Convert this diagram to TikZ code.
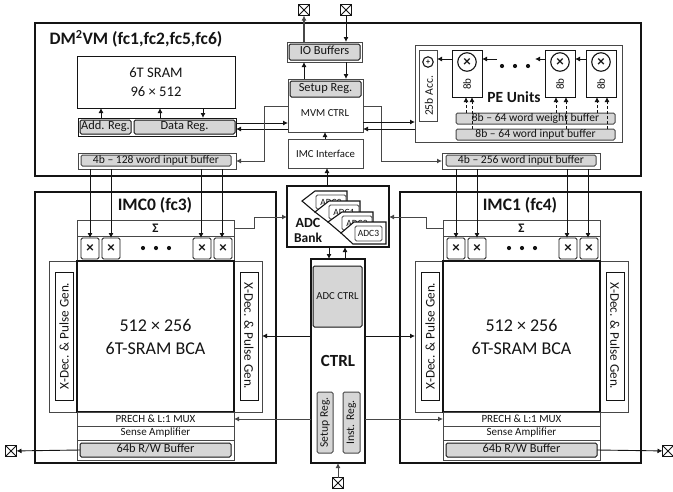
\documentclass[tikz,border=0pt]{standalone}
\usepackage{fontspec}
\setmainfont{Carlito}
\usetikzlibrary{arrows.meta,calc}
\definecolor{gb}{gray}{0.84}
\definecolor{ln}{gray}{0.08}
\definecolor{gl}{gray}{0.28}
\newcommand{\bx}[7]{% style,name,x1,y1,x2,y2,text
  \pgfmathsetmacro{\cxx}{(#3+#5)/2}\pgfmathsetmacro{\cyy}{(#4+#6)/2}
  \pgfmathsetmacro{\wxx}{#5-#3}\pgfmathsetmacro{\hyy}{#6-#4}
  \node[#1,minimum width=\wxx pt,minimum height=\hyy pt] (#2) at (\cxx,\cyy) {#7};}
\tikzset{
  base/.style={inner sep=0pt,outer sep=0pt,text=ln,align=center},
  plain/.style={base,draw=ln,line width=1pt,fill=white},
  heavy/.style={base,draw=ln,line width=1.7pt,fill=white},
  frame/.style={base,draw=gl,line width=1pt,fill=white},
  gbox/.style={base,draw=gl,line width=1pt,fill=gb,rounded corners=1.5pt,text height=0.64em,text depth=0.05em},
  mult/.style={base,draw=ln,line width=0.8pt,fill=white,rounded corners=1.5pt,font=\fontsize{15}{15}\bfseries},
  circ/.style={base,circle,draw=ln,line width=1.1pt,fill=white,minimum size=#1},
  pad/.style={base,draw=ln,line width=1.1pt,fill=white,minimum size=11pt,
    path picture={\draw[ln,line width=0.8pt] (path picture bounding box.south west)--(path picture bounding box.north east)
      (path picture bounding box.north west)--(path picture bounding box.south east);}},
  wire/.style={draw=ln,line width=0.9pt,-{Latex[length=5pt,width=5pt]}},
  gwire/.style={draw=gl,line width=1pt,-{Latex[length=5pt,width=5pt]}},
  dwire/.style={draw=ln,line width=0.9pt,densely dashed,-{Latex[length=5pt,width=5pt]}},
  tag/.style={draw=ln,line width=1.1pt,fill=white},
  dot/.style={base,circle,fill=ln,minimum size=4.2pt},
  f7/.style={font=\fontsize{9.5}{10}\selectfont},
  f75/.style={font=\fontsize{10.7}{11}\selectfont},
  f8/.style={font=\fontsize{11.6}{12}\selectfont},
  f85/.style={font=\fontsize{11}{12}\selectfont},
  f9/.style={font=\fontsize{12.4}{13}\selectfont},
}
\begin{document}
\begin{tikzpicture}[x=1pt,y=-1pt]
\useasboundingbox (0,0) rectangle (673,491);
% outer blocks
\bx{heavy}{dm}{35}{23}{641}{176}{}
\bx{heavy}{imcA}{35}{192}{276}{463}{}
\bx{heavy}{imcB}{400}{192}{641}{463}{}
\node[base,font=\fontsize{17.5}{18}\bfseries] (dmt) at (136,39) {DM\textsuperscript{2}VM (fc1,fc2,fc5,fc6)};
\node[base,font=\fontsize{17.5}{18}\bfseries] (imcAt) at (155,205) {IMC0 (fc3)};
\node[base,font=\fontsize{17.5}{18}\bfseries] (imcBt) at (520,205) {IMC1 (fc4)};
% SRAM
\bx{plain,font=\fontsize{14.6}{18.5}\selectfont}{sram}{77}{56}{235}{108}{6T SRAM\\96 × 512}
\bx{frame,draw=ln}{regs}{78}{118}{236}{136}{}
\bx{gbox,f9,draw=ln}{addr}{80}{120}{131}{134}{Add. Reg.}
\bx{gbox,f9,draw=ln}{datar}{134}{120}{235}{134}{Data Reg.}
\bx{frame}{bufA}{78}{153}{236}{169}{}
\bx{gbox,f8}{bufAi}{81}{155}{231}{166}{4b – 128 word input buffer}
% centre
\bx{frame}{io}{287}{42}{362}{62}{}
\bx{gbox,f9,draw=ln}{ioi}{289}{44}{360}{60}{IO Buffers}
\bx{frame}{mvm}{288}{79}{363}{132}{}
\bx{gbox,f9,draw=ln}{setup}{290}{81}{361}{97}{Setup Reg.}
\node[base,f75] (mvmt) at (325,113) {MVM CTRL};
\bx{frame,f75}{imcif}{288}{139}{363}{168}{IMC Interface}
\node[pad] (padA) at (304,10) {};
\node[pad] (padB) at (346,10) {};
% PE
\bx{frame}{pe}{415}{45}{622}{142}{}
\bx{frame}{acc}{419}{50}{437}{121}{}
\node[circ=10.5pt] (accc) at (428,62) {};
\node[base,font=\fontsize{8}{8}\bfseries] at (accc) {+};
\node[base,f8,rotate=90] (acct) at (429,96) {25b Acc.};
\foreach \n/\xa in {A/452,B/545,C/586}{
  \pgfmathsetmacro{\xb}{\xa+30}
  \pgfmathsetmacro{\xc}{\xa+15}
  \bx{plain}{pe\n}{\xa}{50}{\xb}{97}{}
  \node[circ=18.5pt] (c\n) at (\xc,62) {};
  \node[base,font=\fontsize{15}{15}\bfseries] at (c\n) {×};
  \node[base,f85,rotate=90] at (\xc,84) {8b};
}
\node[dot] (d1) at (502,66) {};
\node[dot] (d2) at (515,66) {};
\node[dot] (d3) at (528,66) {};
\node[base,font=\fontsize{15.5}{16}\bfseries] (peu) at (514,97) {PE Units};
\bx{gbox,f8}{wbuf}{456}{113}{615}{124}{8b – 64 word weight buffer}
\bx{gbox,f8}{ibuf}{456}{129}{615}{140}{8b – 64 word input buffer}
\bx{frame}{bufB}{442}{153}{600}{169}{}
\bx{gbox,f8}{bufBi}{446}{155}{596}{166}{4b – 256 word input buffer}
% IMC macro, twice
\foreach \s/\o in {A/0,B/366}{
  \pgfmathsetmacro{\xa}{49+\o}\pgfmathsetmacro{\xb}{262+\o}
  \pgfmathsetmacro{\xc}{77+\o}\pgfmathsetmacro{\xd}{234+\o}
  \bx{frame}{mac\s}{\xa}{261}{\xb}{412}{}
  \bx{frame}{sig\s}{\xc}{220}{\xd}{236}{}
  \node[base,font=\fontsize{13}{13}\bfseries] at (sig\s) {Σ};
  \bx{frame}{row\s}{\xc}{236}{\xd}{261}{}
  \foreach \m/\xe in {a/81,b/102,c/193,d/214}{
    \pgfmathsetmacro{\xl}{\xe+\o}\pgfmathsetmacro{\xr}{\xe+\o+18}
    \bx{mult}{m\s\m}{\xl}{238}{\xr}{259}{×}
  }
  \pgfmathsetmacro{\da}{143+\o}\pgfmathsetmacro{\db}{156+\o}\pgfmathsetmacro{\dc}{169+\o}
  \node[dot] at (\da,248) {};\node[dot] at (\db,248) {};\node[dot] at (\dc,248) {};
  \bx{heavy,line width=1.1pt,font=\fontsize{18}{23}\selectfont}{bca\s}{\xc}{261}{\xd}{412}{512 × 256\\6T-SRAM BCA}
  \pgfmathsetmacro{\pa}{55+\o}\pgfmathsetmacro{\pb}{73+\o}
  \pgfmathsetmacro{\qa}{240+\o}\pgfmathsetmacro{\qb}{258+\o}
  \bx{plain}{xl\s}{\pa}{272}{\pb}{400}{}
  \node[base,font=\fontsize{13.2}{14}\selectfont,rotate=90] at (xl\s) {X-Dec. \& Pulse Gen.};
  \bx{plain}{xr\s}{\qa}{272}{\qb}{400}{}
  \node[base,font=\fontsize{13.2}{14}\selectfont,rotate=-90] at (xr\s) {X-Dec. \& Pulse Gen.};
  \bx{frame,f85}{pre\s}{\xc}{412}{\xd}{426}{PRECH \& L:1 MUX}
  \bx{frame,f85}{sen\s}{\xc}{426}{\xd}{440}{Sense Amplifier}
  \bx{frame}{rw\s}{\xc}{440}{\xd}{460}{}
  \pgfmathsetmacro{\ra}{80+\o}\pgfmathsetmacro{\rb}{231+\o}
  \bx{gbox,f9,draw=ln}{rwi\s}{\ra}{443}{\rb}{457}{64b R/W Buffer}
}
% ADC bank
\bx{heavy,line width=2pt}{adc}{287}{186}{389}{247}{}
\node[base,font=\fontsize{14}{14}\bfseries] (adct) at (308,223) {ADC};
\node[base,font=\fontsize{13.5}{14}\bfseries] (adcb) at (308,238) {Bank};
\draw[tag] (302,201)--(315,191)--(347,191)--(347,212)--(315,212)--cycle;
\bx{mult,f7,draw=gl}{adc0}{316}{195}{346}{209}{ADC0}
\draw[tag] (315,212)--(329,201)--(360,201)--(360,222)--(328,222)--cycle;
\bx{mult,f7,draw=gl}{adc1}{329}{205}{359}{219}{ADC1}
\draw[tag] (328,222)--(342,212)--(373,212)--(373,233)--(341,233)--cycle;
\bx{mult,f7,draw=gl}{adc2}{342}{216}{372}{230}{ADC2}
\draw[tag] (341,233)--(354,222)--(386,222)--(386,244)--(353,244)--cycle;
\bx{mult,f7,draw=gl}{adc3}{355}{226}{382}{241}{ADC3}
% CTRL
\bx{heavy}{ctrl}{311}{259}{365}{463}{}
\node[base,font=\fontsize{17}{17}\bfseries] (ctrlt) at (338,361) {CTRL};
\bx{gbox,f75,draw=ln}{adcc}{313}{266}{362}{327}{ADC CTRL}
\bx{gbox,text height=,text depth=}{setc}{317}{392}{333}{453}{}
\node[base,f8,rotate=90] at (setc) {Setup Reg.};
\bx{gbox,text height=,text depth=}{instc}{343}{392}{360}{453}{}
\node[base,f8,rotate=90] at (instc) {Inst. Reg.};
\node[pad] (padL) at (11,451) {};
\node[pad] (padR) at (668,451) {};
\node[pad] (padC) at (338,483) {};
% connectors
\draw[gwire,line width=1.6pt] (io.north -| padA) -- (padA);
\draw[wire] (padB) -- (io.north -| padB);
\draw[wire] (mvm.north -| padA) -- (io.south -| padA);
\draw[wire] (io.south -| padB) -- (mvm.north -| padB);
\draw[wire] (imcif.north -| 325,0) -- (mvm.south -| 325,0);
\draw[wire] (adc.north -| 327,0) -- (imcif.south -| 327,0);
\draw[wire] (regs.east |- 0,123) -- (mvm.west |- 0,123);
\draw[wire] (mvm.west |- 0,129) -- (regs.east |- 0,129);
\draw[gwire] (mvm.west |- 0,106) -- (264,106) |- (bufA.east);
\draw[gwire] (mvm.east |- 0,106) -- (381,106) |- (bufB.west);
\draw[wire] (mvm.east |- 0,122) -- (pe.west |- 0,122);
\draw[wire] (pe.west |- 0,129) -- (mvm.east |- 0,129);
\draw[wire] (regs.north -| 101,0) -- (sram.south -| 101,0);
\draw[wire] (regs.north -| 160,0) -- (sram.south -| 160,0);
\draw[wire] (sram.south -| 203,0) -- (regs.north -| 203,0);
\draw[wire] (peA.west |- 0,59) -- (acc.east |- 0,59);
\draw[wire] (497,59) -- (peA.east |- 0,59);
\draw[wire] (peB.west |- 0,59) -- (535,59);
\draw[wire] (peC.west |- 0,59) -- (peB.east |- 0,59);
\foreach \xa/\xb/\n in {466/472/A,556/566/B,597/607/C}{
  \draw[dwire] (wbuf.north -| \xa,0) -- (pe\n.south -| \xa,0);
  \draw[dwire] (ibuf.north -| \xb,0) -- (pe\n.south -| \xb,0);
}
\foreach \s/\m/\xa in {A/a/90,A/b/111,A/c/201,A/d/222}{
  \draw[wire] (bufA.south -| \xa,0) -- (m\s\m.north -| \xa,0);}
\foreach \s/\m/\xa in {B/a/456,B/b/477,B/c/567,B/d/588}{
  \draw[wire] (bufB.south -| \xa,0) -- (m\s\m.north -| \xa,0);}
\draw[gwire] (sigA.east |- 0,228) -- (254,228) -- (254,217) -- (adc.west |- 0,217);
\draw[gwire] (sigB.west |- 0,228) -- (426,228) -- (426,217) -- (adc.east |- 0,217);
\draw[wire] (adc.south -| 329,0) -- (ctrl.north -| 329,0);
\draw[wire] (ctrl.north -| 345,0) -- (adc.south -| 345,0);
\draw[wire] (ctrl.west |- 0,336) -- (macA.east |- 0,336);
\draw[wire] (ctrl.east |- 0,336) -- (macB.west |- 0,336);
\draw[gwire] (ctrl.west |- 0,419) -- (preA.east);
\draw[gwire] (ctrl.east |- 0,419) -- (preB.west);
\draw[gwire] (padC) -- (ctrl.south -| padC);
\draw[wire] (rwiA.west) -- (padL);
\draw[wire] (rwiB.east) -- (padR);
\end{tikzpicture}
\end{document}
